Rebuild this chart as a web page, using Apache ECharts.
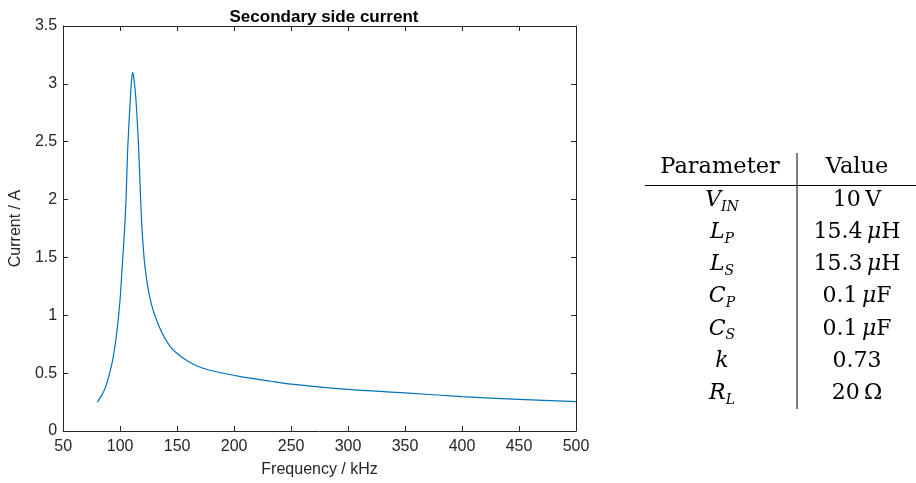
<!DOCTYPE html>
<html>
<head>
<meta charset="utf-8">
<script src="https://cdn.jsdelivr.net/npm/echarts@6/dist/echarts.min.js"></script>
<style>
  html, body { margin: 0; padding: 0; background: #fff; }
  #main { width: 916px; height: 483px; }
</style>
</head>
<body>
<div id="main"></div>
<script>
// frequency in kHz, current in A
var freq    = [80, 84, 87.6, 90.5, 93.5, 97, 99.9, 101.7, 103.7, 105.2, 106.6, 108.9, 110, 111, 112, 113.9, 116.3, 118, 119.4, 121.8, 125.3, 129.7, 136.9, 144, 150, 159.2, 168, 179.6, 205.8, 232, 250, 300, 350, 400, 450, 500];
var current = [0.25, 0.31, 0.39, 0.49, 0.614, 0.844, 1.13, 1.40, 1.71, 2.00, 2.43, 2.86, 3.03, 3.10, 3.05, 2.86, 2.43, 2.00, 1.71, 1.42, 1.19, 1.02, 0.844, 0.73, 0.67, 0.605, 0.56, 0.523, 0.47, 0.43, 0.405, 0.36, 0.33, 0.297, 0.274, 0.253];

// parameter table
var paramNames  = ['{i|V}{s|IN}', '{i|L}{s|P}', '{i|L}{s|S}', '{i|C}{s|P}', '{i|C}{s|S}', '{i|k}', '{i|R}{s|L}'];
var paramValues = ['10\u2009V', '15.4\u2009{i|\u03bc}H', '15.3\u2009{i|\u03bc}H', '0.1\u2009{i|\u03bc}F', '0.1\u2009{i|\u03bc}F', '0.73', '20\u2009\u03a9'];

var axisColor = '#262626';
var lineColor = '#0072BD';
var serif = '"DejaVu Serif", "Liberation Serif", serif';
var sans = '"Liberation Sans", Arial, sans-serif';

var chart = echarts.init(document.getElementById('main'));

var rich = {
  i: { fontFamily: serif, fontSize: 22, fontStyle: 'italic', lineHeight: 28, color: '#000' },
  s: { fontFamily: serif, fontSize: 14, fontStyle: 'italic', lineHeight: 13, verticalAlign: 'bottom', color: '#000' }
};

var graphics = [];
var rowY = 200, rowStep = 32.2;
graphics.push({ type: 'text', x: 720, y: 167, style: { text: 'Parameter', fontFamily: serif, fontSize: 22.5, fill: '#000', align: 'center', verticalAlign: 'middle' } });
graphics.push({ type: 'text', x: 857, y: 167, style: { text: 'Value', fontFamily: serif, fontSize: 22.5, fill: '#000', align: 'center', verticalAlign: 'middle' } });
for (var r = 0; r < paramNames.length; r++) {
  graphics.push({ type: 'text', x: 722, y: rowY + r * rowStep, style: { text: paramNames[r], rich: rich, fontFamily: serif, fontSize: 22, fill: '#000', align: 'center', verticalAlign: 'middle' } });
  graphics.push({ type: 'text', x: 857, y: rowY + r * rowStep, style: { text: paramValues[r], rich: rich, fontFamily: serif, fontSize: 22, fill: '#000', align: 'center', verticalAlign: 'middle' } });
}
graphics.push({ type: 'line', shape: { x1: 797, y1: 153, x2: 797, y2: 409 }, style: { stroke: '#000', lineWidth: 1 } });
graphics.push({ type: 'line', shape: { x1: 645, y1: 185.5, x2: 916, y2: 185.5 }, style: { stroke: '#000', lineWidth: 1 } });

var tickFont = { color: axisColor, fontFamily: sans, fontSize: 16 };

chart.setOption({
  animation: false,
  title: {
    text: 'Secondary side current',
    left: 319, top: 4, textAlign: 'center',
    textStyle: { fontFamily: sans, fontSize: 17, fontWeight: 'bold', color: '#000' }
  },
  grid: { left: 62, right: 340, top: 26, bottom: 52, containLabel: false },
  xAxis: [{
    type: 'value', min: 50, max: 500, interval: 50,
    name: 'Frequency / kHz', nameLocation: 'middle', nameGap: 31,
    nameTextStyle: tickFont,
    axisLine: { onZero: false, lineStyle: { color: axisColor, width: 1 } },
    axisTick: { inside: true, length: 5, lineStyle: { color: axisColor } },
    axisLabel: Object.assign({ margin: 8 }, tickFont),
    splitLine: { show: false }
  }, {
    type: 'value', min: 50, max: 500, interval: 50, position: 'top',
    axisLine: { onZero: false, lineStyle: { color: axisColor, width: 1 } },
    axisTick: { inside: true, length: 5, lineStyle: { color: axisColor } },
    axisLabel: { show: false },
    splitLine: { show: false }
  }],
  yAxis: [{
    type: 'value', min: 0, max: 3.5, interval: 0.5,
    name: 'Current / A', nameLocation: 'middle', nameGap: 36,
    nameTextStyle: tickFont,
    axisLine: { show: true, onZero: false, lineStyle: { color: axisColor, width: 1 } },
    axisTick: { show: true, inside: true, length: 5, lineStyle: { color: axisColor } },
    axisLabel: Object.assign({ margin: 6 }, tickFont),
    splitLine: { show: false }
  }, {
    type: 'value', min: 0, max: 3.5, interval: 0.5, position: 'right',
    axisLine: { show: true, onZero: false, lineStyle: { color: axisColor, width: 1 } },
    axisTick: { show: true, inside: true, length: 5, lineStyle: { color: axisColor } },
    axisLabel: { show: false },
    splitLine: { show: false }
  }],
  series: [{
    type: 'line',
    xAxisIndex: 0, yAxisIndex: 0,
    data: freq.map(function (f, k) { return [f, current[k]]; }),
    smooth: 0.3,
    showSymbol: false,
    lineStyle: { color: lineColor, width: 1.2 }
  }],
  graphic: graphics
});
</script>
</body>
</html>
